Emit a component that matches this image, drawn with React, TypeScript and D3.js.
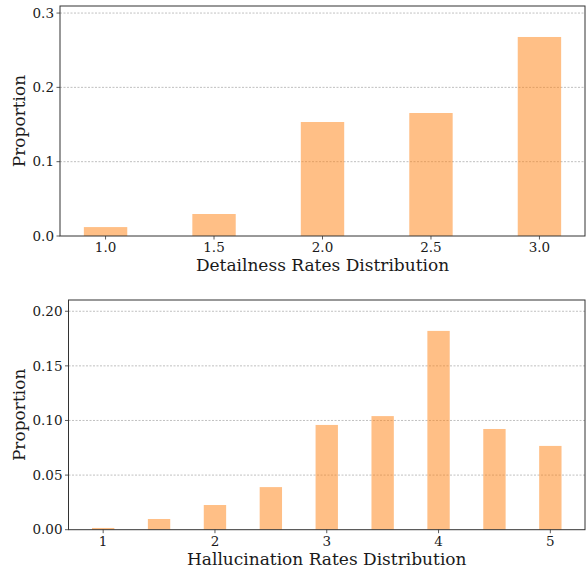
import React from "react";
import * as d3 from "d3";

const detailCategories = [1.0, 1.5, 2.0, 2.5, 3.0];
const detailValues = [0.012, 0.0296, 0.1534, 0.1655, 0.2678];
const detailYTicks = [0.0, 0.1, 0.2, 0.3];
const detailXTicks = [1.0, 1.5, 2.0, 2.5, 3.0];

const halluCategories = [1, 1.5, 2, 2.5, 3, 3.5, 4, 4.5, 5];
const halluValues = [0.0016, 0.0098, 0.0226, 0.039, 0.0959, 0.104, 0.182, 0.0922, 0.0767];
const halluYTicks = [0.0, 0.05, 0.1, 0.15, 0.2];
const halluXTicks = [1, 2, 3, 4, 5];

const FONT = "'DejaVu Serif', serif";

type PanelProps = {
  left: number; right: number; top: number; bottom: number;
  cats: number[]; vals: number[]; xDomain: [number, number]; yMax: number;
  yTicks: number[]; yFmt: (v: number) => string; xTicks: number[]; xFmt: (v: number) => string;
  xLabel: string; barW: number;
};

function Panel(p: PanelProps) {
  const x = d3.scaleLinear().domain(p.xDomain).range([p.left, p.right]);
  const y = d3.scaleLinear().domain([0, p.yMax]).range([p.bottom, p.top]);
  const spine = "#333";
  return (
    <g>
      {p.yTicks.filter((t) => t > 0).map((t) => (
        <line key={"g" + t} x1={p.left} x2={p.right} y1={y(t)} y2={y(t)} stroke="#b0b0b0" strokeWidth={0.8} strokeDasharray="2,1.5" />
      ))}
      {p.cats.map((c, i) => (
        <rect key={"b" + i} x={x(c - p.barW / 2)} width={x(c + p.barW / 2) - x(c - p.barW / 2)} y={y(p.vals[i])} height={p.bottom - y(p.vals[i])} fill="#ff7f0e" fillOpacity={0.5} />
      ))}
      <rect x={p.left} y={p.top} width={p.right - p.left} height={p.bottom - p.top} fill="none" stroke={spine} strokeWidth={1} />
      {p.yTicks.map((t) => (
        <g key={"y" + t}>
          <line x1={p.left - 3.5} x2={p.left} y1={y(t)} y2={y(t)} stroke={spine} strokeWidth={0.8} />
          <text x={p.left - 6} y={y(t)} dy="0.35em" textAnchor="end" fontSize={13.5} fontFamily={FONT} fill="#1a1a1a">{p.yFmt(t)}</text>
        </g>
      ))}
      {p.xTicks.map((t) => (
        <g key={"x" + t}>
          <line x1={x(t)} x2={x(t)} y1={p.bottom} y2={p.bottom + 3.5} stroke={spine} strokeWidth={0.8} />
          <text x={x(t)} y={p.bottom + 16} textAnchor="middle" fontSize={13.5} fontFamily={FONT} fill="#1a1a1a">{p.xFmt(t)}</text>
        </g>
      ))}
      <text x={(p.left + p.right) / 2} y={p.bottom + 35} textAnchor="middle" fontSize={17} fontFamily={FONT} fill="#1a1a1a">{p.xLabel}</text>
      <text transform={`translate(25,${(p.top + p.bottom) / 2}) rotate(-90)`} textAnchor="middle" fontSize={17} fontFamily={FONT} fill="#1a1a1a">Proportion</text>
    </g>
  );
}

export default function App() {
  return (
    <svg width={586} height={569} style={{ position: "absolute", left: 0, top: 0, background: "#fff" }}>
      <Panel left={60} right={585} top={6} bottom={236} cats={detailCategories} vals={detailValues}
        xDomain={[0.79, 3.21]} yMax={0.3095} yTicks={detailYTicks} yFmt={d3.format(".1f")}
        xTicks={detailXTicks} xFmt={d3.format(".1f")} xLabel="Detailness Rates Distribution" barW={0.2} />
      <Panel left={68.5} right={585} top={300} bottom={529.7} cats={halluCategories} vals={halluValues}
        xDomain={[0.69, 5.31]} yMax={0.2103} yTicks={halluYTicks} yFmt={d3.format(".2f")}
        xTicks={halluXTicks} xFmt={d3.format("d")} xLabel="Hallucination Rates Distribution" barW={0.2} />
    </svg>
  );
}
